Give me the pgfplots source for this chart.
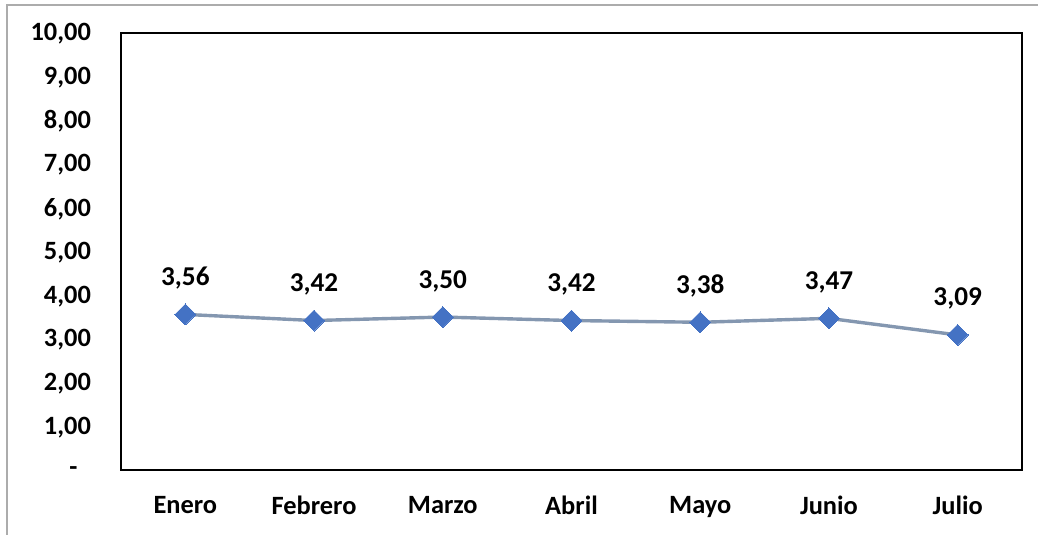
\documentclass[border=0pt]{standalone}
\usepackage{fontspec}
\setmainfont{Carlito}
\usepackage{pgfplots}
\pgfplotsset{compat=1.18}
\definecolor{serieline}{HTML}{8497B0}
\definecolor{seriemark}{HTML}{4472C4}

\begin{document}
\begin{tikzpicture}
% page = 1038x535 px at 0.5pt per px, axis box at (121,33)-(1022,470)
\useasboundingbox (-60.5pt,-32.5pt) rectangle (458.5pt,235pt);
\draw[gray!65, line width=0.8pt] (-57pt,-40pt) -- (-57pt,232.5pt) -- (470pt,232.5pt);
\begin{axis}[
    scale only axis,
    width=450.5pt, height=218.5pt,
    xmin=-0.5, xmax=6.5,
    ymin=0, ymax=10,
    xtick={0,...,6},
    xticklabels={Enero, Febrero, Marzo, Abril, Mayo, Junio, Julio},
    ytick={0,...,10},
    yticklabels={-\hphantom{0},{1,00},{2,00},{3,00},{4,00},{5,00},{6,00},{7,00},{8,00},{9,00},{10,00}},
    major tick length=0pt,
    axis line style={line width=1pt, black},
    font=\fontsize{13.2}{15}\selectfont\bfseries,
    yticklabel style={anchor=east, xshift=-11.5pt, yshift=-0.5pt},
    xticklabel style={anchor=north, yshift=-9.5pt},
    /pgf/number format/.cd, fixed, fixed zerofill, precision=2, use comma, assume math mode=true,
    /pgfplots/.cd,
    nodes near coords,
    every node near coord/.style={anchor=base, inner sep=0pt, yshift=14.5pt, black,
        font=\fontsize{13.6}{15}\selectfont\bfseries},
    clip=false,
]
\addplot[serieline, line width=1.7pt, mark=square*,
    mark size=3.7pt, mark options={rotate=45, seriemark, draw=seriemark, fill=seriemark, line width=0pt}]
    coordinates {(0,3.56) (1,3.42) (2,3.50) (3,3.42) (4,3.38) (5,3.47) (6,3.09)};
\end{axis}
\end{tikzpicture}
\end{document}
